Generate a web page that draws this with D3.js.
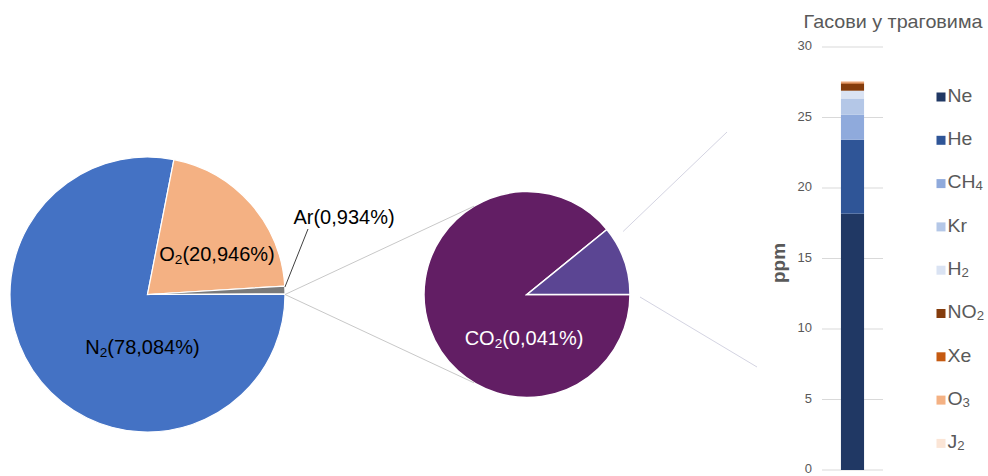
<!DOCTYPE html>
<html>
<head>
<meta charset="utf-8">
<script src="https://cdn.jsdelivr.net/npm/d3@7"></script>
<style>
  html, body { margin: 0; padding: 0; background: #fff; }
  svg { display: block; font-family: "Liberation Sans", Arial, sans-serif; }
</style>
</head>
<body>
<svg id="chart" width="988" height="476"></svg>
<script>
// Main atmospheric gases (volume %)
const mainNames = ["N", "O", "Ar"];
const mainSubs = ["2", "2", ""];
const mainValues = [78.084, 20.946, 0.934];
const mainColors = ["#4472c4", "#f4b183", "#7a7a7a"];

// Second pie: CO2 and the remaining trace gases (volume %)
const minorNames = ["CO", "trace"];
const minorSubs = ["2", ""];
const minorValues = [0.041, 0.005];
const minorColors = ["#621e64", "#5b4593"];

// Trace gases (ppm), stacked bottom to top
const traceNames = ["Ne", "He", "CH", "Kr", "H", "NO", "Xe", "O", "J"];
const traceSubs = ["", "", "4", "", "2", "2", "", "3", "2"];
const traceValues = [18.18, 5.24, 1.79, 1.14, 0.55, 0.5, 0.09, 0.07, 0.01];
const traceColors = ["#203864", "#2f5597", "#8faadc", "#b4c7e7", "#dae3f3",
                     "#843c0c", "#c55a11", "#f4b183", "#fbe5d6"];
const yTicks = [0, 5, 10, 15, 20, 25, 30];

const svg = d3.select("#chart");
const textGrey = "#595959";

function subLabel(sel, name, sub, tail, size) {
  sel.append("tspan").text(name);
  if (sub) {
    sel.append("tspan").attr("font-size", size * 0.68).attr("dy", size * 0.22).text(sub);
    if (tail) sel.append("tspan").attr("dy", -size * 0.22).text(tail);
  } else if (tail) {
    sel.append("tspan").text(tail);
  }
}
const fmt = v => String(v).replace(".", ",");

// ---- Main pie ----
const big = { cx: 147.5, cy: 294.5, r: 137.5 };
const bigData = mainValues.concat([d3.sum(minorValues)]);
const bigColors = mainColors.concat([minorColors[0]]);
const bigPie = d3.pie().sort(null).startAngle(Math.PI / 2).endAngle(Math.PI / 2 + 2 * Math.PI);
const bigArcs = bigPie(bigData);
const bigArc = d3.arc().innerRadius(0).outerRadius(big.r);
const gBig = svg.append("g").attr("transform", `translate(${big.cx},${big.cy})`);
gBig.selectAll("path").data(bigArcs).join("path")
  .attr("d", bigArc)
  .attr("fill", (d, i) => bigColors[i])
  .attr("stroke", "#fff").attr("stroke-width", 1.2);

// ---- Second pie ----
const small = { cx: 527, cy: 294.5, r: 103 };
const smallPie = d3.pie().sort(null).startAngle(Math.PI / 2).endAngle(Math.PI / 2 + 2 * Math.PI);
const smallArcs = smallPie(minorValues);
const smallArc = d3.arc().innerRadius(0).outerRadius(small.r);
const gSmall = svg.append("g").attr("transform", `translate(${small.cx},${small.cy})`);
gSmall.selectAll("path").data(smallArcs).join("path")
  .attr("d", smallArc)
  .attr("fill", (d, i) => minorColors[i])
  .attr("stroke", "#fff").attr("stroke-width", 1.5);

// ---- Connector lines: main pie -> second pie ----
const joinPt = [big.cx + big.r, big.cy];
const tAng = 121 * Math.PI / 180;
[-1, 1].forEach(s => {
  svg.append("line")
    .attr("x1", joinPt[0]).attr("y1", joinPt[1])
    .attr("x2", small.cx + small.r * Math.cos(tAng))
    .attr("y2", small.cy + s * small.r * Math.sin(tAng))
    .attr("stroke", "#c8c8c8").attr("stroke-width", 1);
});

// ---- Connector lines: second pie -> bar ----
const traceArc = smallArcs[1];
const a0 = traceArc.startAngle;
svg.append("line")
  .attr("x1", small.cx + (small.r + 8) * Math.sin(a0) + 10).attr("y1", small.cy - (small.r) * Math.cos(a0) + 2)
  .attr("x2", 727).attr("y2", 132)
  .attr("stroke", "#d4d4e2").attr("stroke-width", 1);
svg.append("line")
  .attr("x1", small.cx + small.r + 10).attr("y1", small.cy + 2.5)
  .attr("x2", 757).attr("y2", 367)
  .attr("stroke", "#d4d4e2").attr("stroke-width", 1);

// ---- Pie labels ----
const pieFont = 20;
const labelPos = [[142.5, 349], [217, 256], [344, 219]];
mainNames.forEach((n, i) => {
  const t = svg.append("text")
    .attr("x", labelPos[i][0]).attr("y", labelPos[i][1])
    .attr("text-anchor", "middle").attr("dominant-baseline", "middle")
    .attr("font-size", pieFont).attr("fill", "#000");
  subLabel(t, n, mainSubs[i], `(${fmt(mainValues[i])}%)`, pieFont);
});
// leader line for Ar
const arMid = (bigArcs[2].startAngle + bigArcs[2].endAngle) / 2;
svg.append("line")
  .attr("x1", big.cx + big.r * Math.sin(arMid)).attr("y1", big.cy - big.r * Math.cos(arMid) - 3)
  .attr("x2", 308).attr("y2", 229)
  .attr("stroke", "#404040").attr("stroke-width", 1);

const co2 = svg.append("text")
  .attr("x", 524).attr("y", 340)
  .attr("text-anchor", "middle").attr("dominant-baseline", "middle")
  .attr("font-size", pieFont).attr("fill", "#fff");
subLabel(co2, minorNames[0], minorSubs[0], `(${fmt(minorValues[0])}%)`, pieFont);

// ---- Stacked bar of trace gases ----
const y = d3.scaleLinear().domain([0, 30]).range([470, 47]);
const x = d3.scaleBand().domain(["trag"]).range([822, 883]).paddingInner(0).paddingOuter(0.82);

const gAxis = svg.append("g");
gAxis.selectAll("line").data(yTicks).join("line")
  .attr("x1", 822).attr("x2", 883)
  .attr("y1", d => y(d)).attr("y2", d => y(d))
  .attr("stroke", "#d9d9d9").attr("stroke-width", 1);
gAxis.selectAll("text").data(yTicks).join("text")
  .attr("x", 812).attr("y", d => y(d))
  .attr("text-anchor", "end").attr("dominant-baseline", "middle")
  .attr("font-size", 13).attr("fill", textGrey)
  .text(d => d);

const stack = d3.stack().keys(traceNames.map((d, i) => i))([traceValues.reduce((o, v, i) => (o[i] = v, o), {})]);
svg.append("g").selectAll("rect").data(stack).join("rect")
  .attr("x", x("trag"))
  .attr("width", x.bandwidth())
  .attr("y", d => y(d[0][1]))
  .attr("height", d => y(d[0][0]) - y(d[0][1]))
  .attr("fill", (d, i) => traceColors[i]);

// axis title
svg.append("text")
  .attr("transform", "translate(785,263) rotate(-90)")
  .attr("text-anchor", "middle")
  .attr("font-size", 19).attr("font-weight", "bold").attr("fill", textGrey)
  .text("ppm");

// chart title
svg.append("text")
  .attr("transform", "translate(893,28) scale(1.04,1)")
  .attr("text-anchor", "middle")
  .attr("font-size", 19).attr("fill", textGrey)
  .text("Гасови у траговима");

// legend
const legFont = 18;
const leg = svg.append("g").selectAll("g").data(traceNames).join("g")
  .attr("transform", (d, i) => `translate(936.5,${97 + i * 43.3})`);
leg.append("rect").attr("x", 0).attr("y", -4.5).attr("width", 9).attr("height", 9)
  .attr("fill", (d, i) => traceColors[i]);
leg.each(function (d, i) {
  const t = d3.select(this).append("text")
    .attr("transform", "translate(11,0) scale(1.08,1)")
    .attr("dominant-baseline", "middle")
    .attr("font-size", legFont).attr("fill", textGrey);
  subLabel(t, d, traceSubs[i], "", legFont);
});
</script>
</body>
</html>
